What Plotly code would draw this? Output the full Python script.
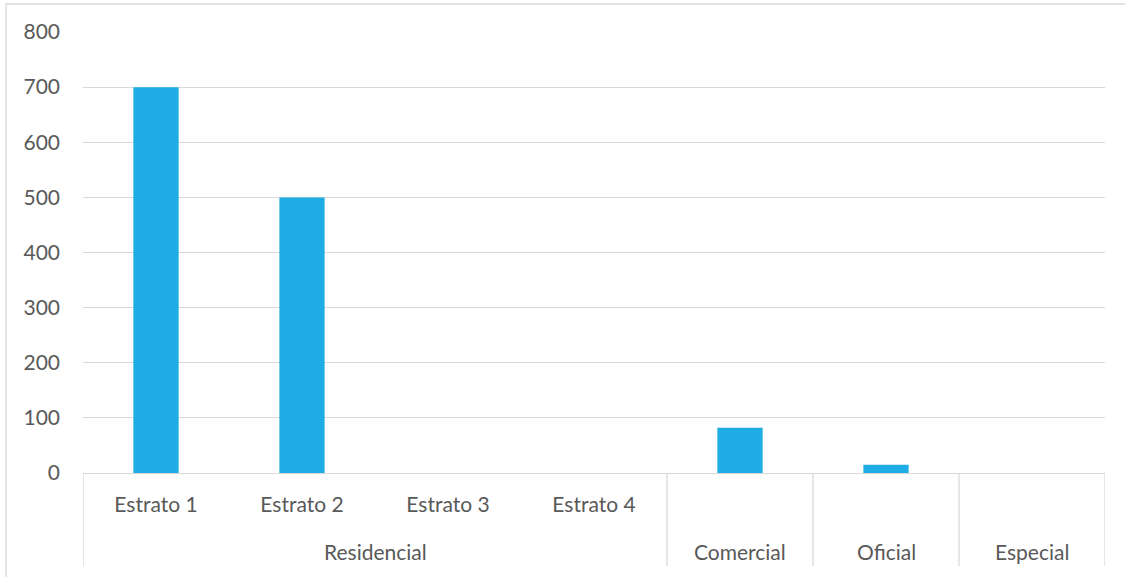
import plotly.graph_objs as go

categories = ['Estrato 1', 'Estrato 2', 'Estrato 3', 'Estrato 4', 'Comercial', 'Oficial', 'Especial']
values = [700, 500, 0, 0, 82, 15, 0]
tick_labels = ['Estrato 1', 'Estrato 2', 'Estrato 3', 'Estrato 4', '', '', '']
groups = ['Residencial', 'Comercial', 'Oficial', 'Especial']
group_sizes = [4, 1, 1, 1]

grey = '#d9d9d9'
text_col = '#595959'
font = 'Lato'

trace = go.Bar(x=categories,
               y=values,
               marker=dict(color='#1DADE4', line=dict(width=0)),
               )

# group labels and divider lines under the axis
shapes = []
annotations = []
start = 0
edges = [-0.5]
for name, n in zip(groups, group_sizes):
    mid = start + (n - 1) / 2
    annotations.append(dict(x=mid, y=-0.177, xref='x', yref='paper',
                            text=name, showarrow=False, yanchor='middle',
                            font=dict(family=font, size=21, color=text_col)))
    start += n
    edges.append(start - 0.5)

for e in edges:
    shapes.append(dict(type='line', xref='x', yref='paper',
                       x0=e, x1=e, y0=0, y1=-0.211,
                       line=dict(color=grey, width=1.3)))

# chart frame (only top and left visible in the picture)
shapes.append(dict(type='rect', xref='paper', yref='paper',
                   x0=-0.0753, x1=1.2, y0=-0.5, y1=1.0635,
                   line=dict(color=grey, width=1.3)))

layout = go.Layout(width=1125, height=577,
                   margin=dict(l=83, r=20, t=32, b=104),
                   paper_bgcolor='white', plot_bgcolor='white',
                   showlegend=False,
                   bargap=0.69,
                   font=dict(family=font, size=21, color=text_col),
                   xaxis=dict(type='category', range=[-0.5, 6.5],
                              tickvals=categories, ticktext=tick_labels,
                              showgrid=False, showline=True, linecolor=grey,
                              linewidth=1.3, ticks='', ticklabelstandoff=13,
                              zeroline=False),
                   yaxis=dict(range=[0, 800], dtick=100, showgrid=True,
                              gridcolor=grey, gridwidth=1.3, showline=False,
                              zeroline=False, ticklabelstandoff=22),
                   shapes=shapes,
                   annotations=annotations)

fig = go.Figure(data=[trace], layout=layout)
# drop the default 8px body margin so the figure sits at the page corner
fig.write_html('out.html', config={'displayModeBar': False},
               post_script="document.body.style.margin='0';")
